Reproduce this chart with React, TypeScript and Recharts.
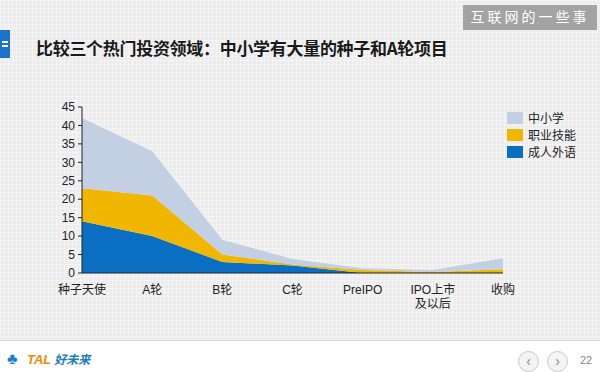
import { AreaChart, Area, XAxis, YAxis } from "recharts";

const stages = ["种子天使", "A轮", "B轮", "C轮", "PreIPO", "IPO上市\n及以后", "收购"];
const adultLanguage = [14, 10, 3, 2, 0, 0, 0];
const vocational = [9, 11, 2, 0.3, 0.8, 0.3, 1];
const k12 = [19, 12, 4, 1.5, 0.5, 0.5, 3];
const yTicks = [0, 5, 10, 15, 20, 25, 30, 35, 40, 45];

const SERIES = [
  { key: "k12", name: "中小学", color: "#c3cfe2" },
  { key: "vocational", name: "职业技能", color: "#f1b600" },
  { key: "adult", name: "成人外语", color: "#0a6fc2" },
];

const data = stages.map((stage, i) => ({
  stage,
  adult: adultLanguage[i],
  vocational: vocational[i],
  k12: k12[i],
}));

const FONT = '"Liberation Sans", "Noto Sans CJK SC", sans-serif';

function StageTick({ x, y, payload }: any) {
  const lines = String(payload.value).split("\n");
  return (
    <text x={x} y={y + 4} textAnchor="middle" fill="#222" fontSize={12} fontFamily={FONT}>
      {lines.map((line, i) => (
        <tspan key={i} x={x} dy={i === 0 ? "0.71em" : "1.2em"}>
          {line}
        </tspan>
      ))}
    </text>
  );
}

export default function App() {
  return (
    <div
      style={{
        position: "relative",
        width: 600,
        height: 372,
        overflow: "hidden",
        background: "#ececec",
        backgroundImage:
          "linear-gradient(rgba(255,255,255,0.35) 1px, transparent 1px), linear-gradient(90deg, rgba(255,255,255,0.35) 1px, transparent 1px)",
        backgroundSize: "4px 4px",
        fontFamily: FONT,
      }}
    >
      <style>{"body{margin:0}"}</style>
      <div
        style={{
          position: "absolute",
          left: 463,
          top: 5,
          width: 134,
          height: 25,
          background: "#a3a3a3",
          color: "#fff",
          fontSize: 14,
          letterSpacing: 3,
          lineHeight: "25px",
          textAlign: "center",
        }}
      >
        互联网的一些事
      </div>
      <div style={{ position: "absolute", left: 0, top: 30, width: 10, height: 28, background: "#1b74c9" }}>
        <div style={{ position: "absolute", left: 2, top: 11, width: 6, height: 2, background: "#fff" }} />
        <div style={{ position: "absolute", left: 2, top: 15, width: 6, height: 2, background: "#fff" }} />
      </div>
      <div
        style={{
          position: "absolute",
          left: 36,
          top: 35,
          fontSize: 17,
          fontWeight: "bold",
          color: "#1a1a1a",
          fontFamily: '"Noto Sans CJK SC", sans-serif',
          letterSpacing: -0.3,
          whiteSpace: "nowrap",
        }}
      >
        比较三个热门投资领域：中小学有大量的种子和A轮项目
      </div>

      <div style={{ position: "absolute", left: 0, top: 0 }}>
        <AreaChart
          width={600}
          height={372}
          data={data}
          margin={{ top: 107, right: 97, left: 52, bottom: 59 }}
        >
          <XAxis
            dataKey="stage"
            interval={0}
            stroke="#222"
            tickLine={false}
            tick={<StageTick />}
            height={40}
          />
          <YAxis
            domain={[0, 45]}
            ticks={yTicks}
            width={30}
            stroke="#222"
            tickSize={4}
            tickMargin={3}
            tick={{ fill: "#222", fontSize: 12, fontFamily: FONT }}
            interval={0}
          />
          {[...SERIES].reverse().map((s) => (
            <Area
              key={s.key}
              type="linear"
              dataKey={s.key}
              name={s.name}
              stackId="a"
              stroke="none"
              fill={s.color}
              fillOpacity={1}
              isAnimationActive={false}
            />
          ))}
        </AreaChart>
      </div>

      <div style={{ position: "absolute", left: 507, top: 109, fontSize: 12, color: "#222" }}>
        {SERIES.map((s) => (
          <div key={s.key} style={{ display: "flex", alignItems: "center", height: 17 }}>
            <span style={{ width: 16, height: 12, background: s.color, marginRight: 5 }} />
            {s.name}
          </div>
        ))}
      </div>

      <div
        style={{
          position: "absolute",
          left: 0,
          top: 340,
          width: 600,
          height: 32,
          background: "#fff",
          borderTop: "1px solid #d8d8d8",
        }}
      >
        <div style={{ position: "absolute", left: 7, top: 9, color: "#1a7fc4", fontSize: 16, fontWeight: "bold" }}>
          ♣
        </div>
        <div
          style={{
            position: "absolute",
            left: 27,
            top: 9,
            fontSize: 13,
            fontWeight: "bold",
            fontStyle: "italic",
            whiteSpace: "nowrap",
          }}
        >
          <span style={{ color: "#f08c00" }}>TAL</span>
          <span style={{ color: "#1a7fc4", fontFamily: '"Noto Sans CJK SC", sans-serif', fontSize: 12, marginLeft: 3 }}>
            好未来
          </span>
        </div>
        {["‹", "›"].map((c, i) => (
          <div
            key={c}
            style={{
              position: "absolute",
              left: 518 + i * 29,
              top: 10,
              width: 19,
              height: 19,
              borderRadius: "50%",
              border: "1px solid #c8c8c8",
              background: "#f4f4f4",
              color: "#888",
              fontSize: 14,
              lineHeight: "18px",
              textAlign: "center",
            }}
          >
            {c}
          </div>
        ))}
        <div style={{ position: "absolute", left: 580, top: 13, fontSize: 11, color: "#888" }}>22</div>
      </div>
    </div>
  );
}
